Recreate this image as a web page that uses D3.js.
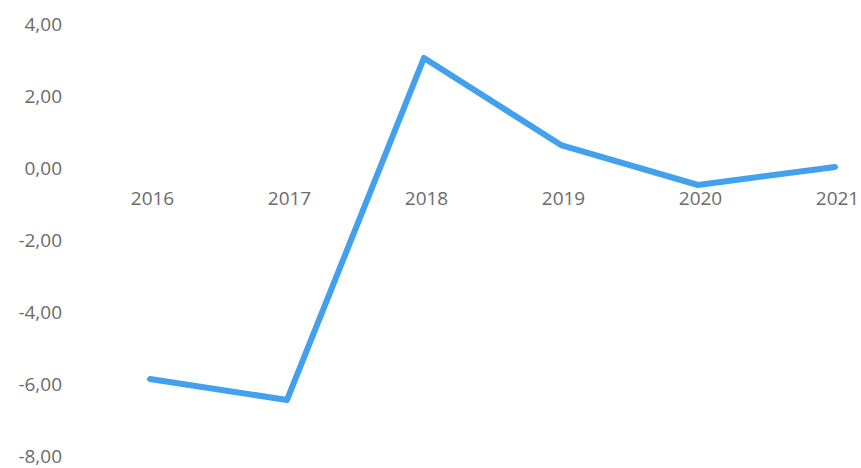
<!DOCTYPE html>
<html><head><meta charset="utf-8">
<script src="https://cdn.jsdelivr.net/npm/d3@7"></script>
<style>body{margin:0;background:#fff}</style>
</head><body>
<svg id="c" width="861" height="468"></svg>
<script>
const years = ["2016","2017","2018","2019","2020","2021"];
const values = [-5.89, -6.47, 3.03, 0.61, -0.50, 0.0];
const yTicks = [4, 2, 0, -2, -4, -6, -8];

const svg = d3.select("#c");
const x = d3.scalePoint().domain(years).range([150, 835]);
const y = d3.scaleLinear().domain([-8, 4]).range([455, 23]);
const fmt = v => d3.format(".2f")(v).replace(".", ",").replace("−", "-");
const font = "'Open Sans', Lato, sans-serif";

const yAxis = d3.axisLeft(y).tickValues(yTicks).tickSize(0).tickPadding(0).tickFormat(fmt);
svg.append("g").attr("transform", "translate(62,1)").call(yAxis)
  .call(g => g.select(".domain").remove())
  .selectAll("text").attr("font-family", font)
  .attr("font-size", 19).attr("fill", "#6b6b6b");

const xAxis = d3.axisBottom(x).tickSize(0).tickPadding(0);
svg.append("g").attr("transform", `translate(2,${y(0) + 32})`).call(xAxis)
  .call(g => g.select(".domain").remove())
  .selectAll("text").attr("dy", "0.32em").attr("font-family", font)
  .attr("font-size", 19).attr("fill", "#6b6b6b");

const line = d3.line().x((d, i) => x(years[i])).y(d => y(d));
svg.append("path").datum(values).attr("d", line)
  .attr("fill", "none").attr("stroke", "#42a0ec").attr("stroke-width", 6)
  .attr("stroke-linejoin", "round").attr("stroke-linecap", "round");
</script>
</body></html>
